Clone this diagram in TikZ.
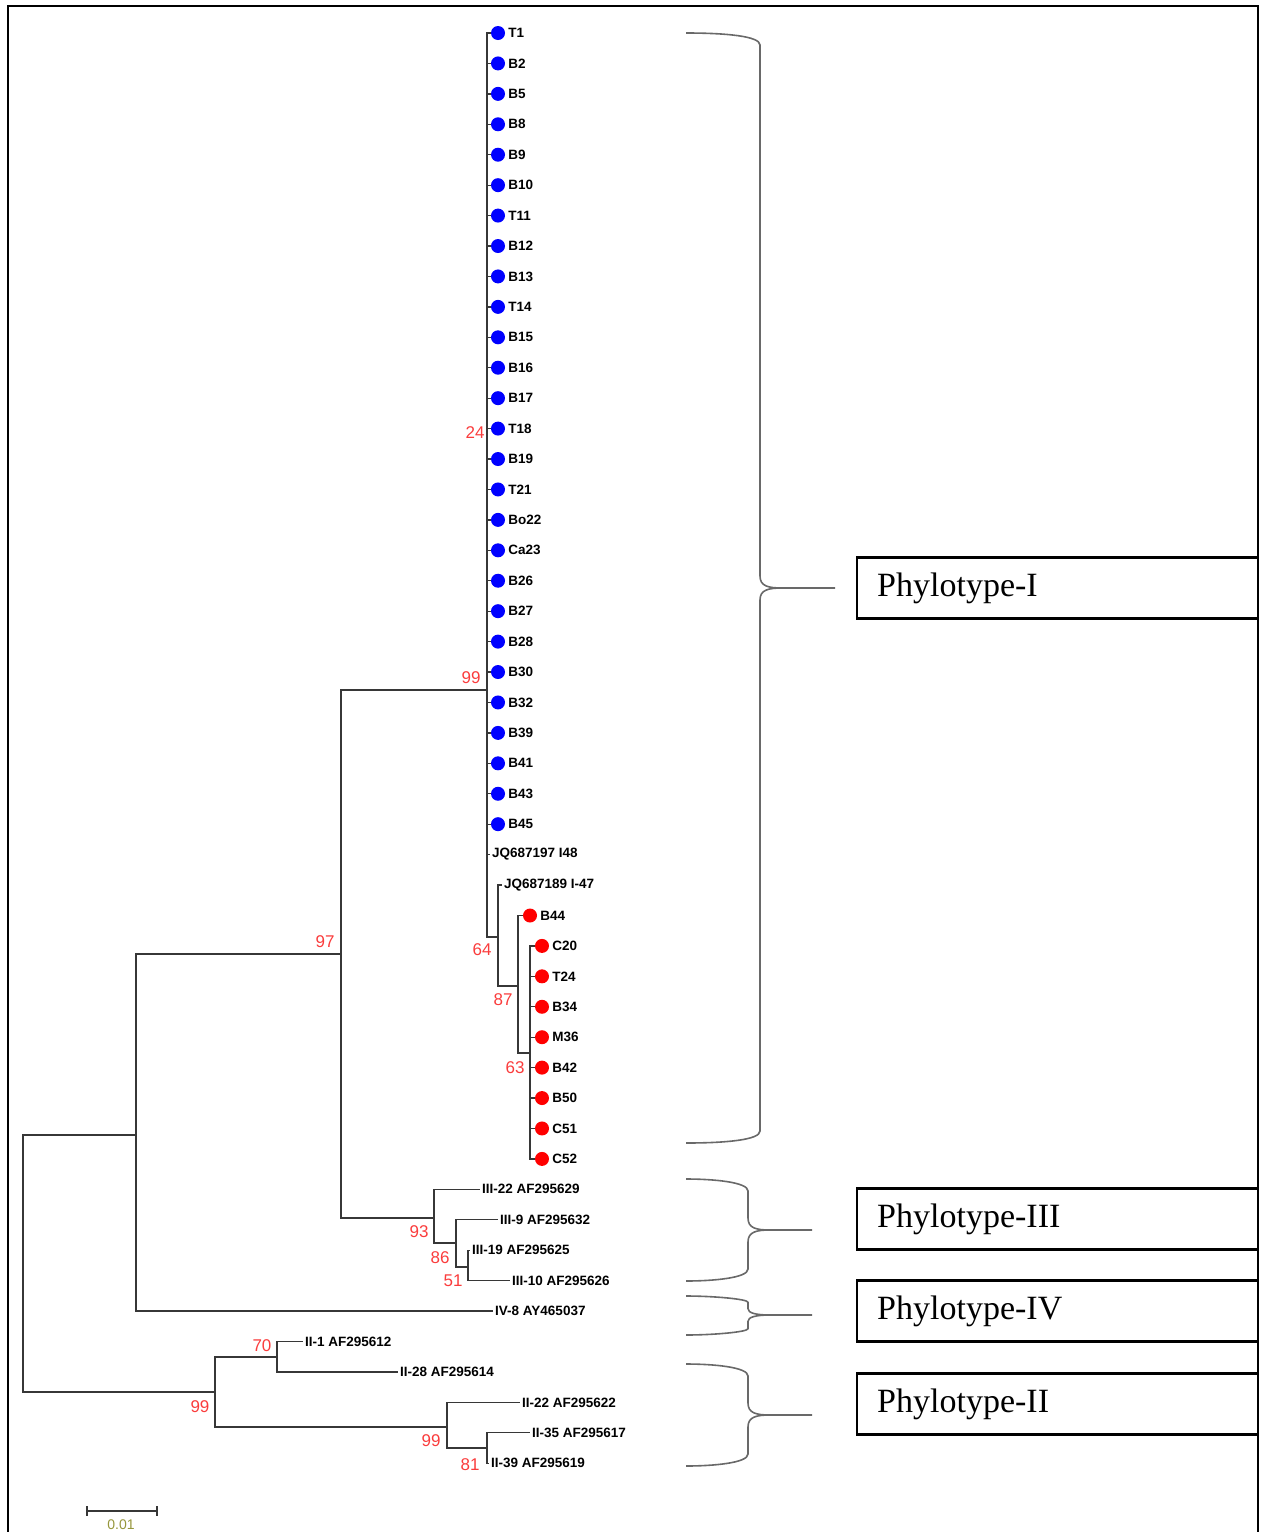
\documentclass[tikz,border=0pt]{standalone}
\usepackage{fontspec}
\setmainfont{Liberation Serif}
\newfontfamily\leaffont{Liberation Sans}
\usetikzlibrary{positioning}
\definecolor{bootred}{RGB}{250,60,60}
\definecolor{scaleolive}{RGB}{150,150,60}
\definecolor{branchgray}{RGB}{55,55,55}
\definecolor{bracegray}{RGB}{105,105,105}
\tikzset{
  branch/.style = {draw=branchgray, line width=1.3pt},
  bdot/.style   = {circle, fill=blue, inner sep=0pt, minimum size=14pt},
  rdot/.style   = {circle, fill=red, inner sep=0pt, minimum size=14pt},
  leaf/.style   = {anchor=west, inner sep=2pt, font=\leaffont\bfseries\fontsize{13.5}{15}\selectfont},
  boot/.style   = {text=bootred, inner sep=0pt, font=\leaffont\fontsize{17}{17}\selectfont},
  phylobox/.style = {draw, line width=2.4pt, anchor=west, minimum width=401pt, minimum height=61pt,
                     text width=361pt, inner xsep=20pt, align=left, font=\fontsize{34}{36}\selectfont},
  bracestyle/.style = {draw=bracegray, line width=1.6pt}
}
% #1 tip x, #2 top y, #3 mid y, #4 bottom y, #5 stem x, #6 point x
\newcommand{\phybrace}[6]{%
  \pgfmathsetmacro{\brr}{min(12,(#3-#2)/3)}
  \draw[bracestyle] (#1,#2) .. controls ({#5-35},#2) and (#5,{#2+3}) .. (#5,{#2+\brr}) -- (#5,{#3-\brr})
    .. controls (#5,{#3-2}) and ({#5+8},#3) .. ({#5+22},#3) -- (#6,#3)
    ({#5+22},#3) .. controls ({#5+8},#3) and (#5,{#3+2}) .. (#5,{#3+\brr}) -- (#5,{#4-\brr})
    .. controls (#5,{#4-3}) and ({#5-35},#4) .. (#1,#4);}

\begin{document}
\begin{tikzpicture}[x=1pt, y=-1pt]
    \useasboundingbox (0,0) rectangle (1262,1532);
    \draw[line width=2.4pt] (8,1532) |- (1258,6) -- (1258,1532);
    % internal nodes
    \coordinate (nRoot) at (23,1263);
    \coordinate (nUp) at (136,1135);
    \coordinate (n97) at (341,954);
    \coordinate (nI) at (487,690);
    \coordinate (n64) at (498,937);
    \coordinate (n87) at (518,986);
    \coordinate (n63) at (530,1053);
    \coordinate (nIII) at (434,1218);
    \coordinate (n86) at (456,1243);
    \coordinate (n51) at (468,1267);
    \coordinate (nII) at (215,1392);
    \coordinate (n70) at (277,1357);
    \coordinate (n99b) at (447,1427);
    \coordinate (n81) at (487,1448);
    % phylotype I
    \foreach \lab [count=\i from 0] in {T1,B2,B5,B8,B9,B10,T11,B12,B13,T14,B15,B16,B17,T18,B19,T21,Bo22,Ca23,B26,B27,B28,B30,B32,B39,B41,B43,B45}
      {\node[bdot] (b\i) at (498,{33+30.43*\i}) {};
       \node[leaf, right=1pt of b\i] (lb\i) {\lab};
       \draw[branch] (nI) |- (b\i);}
    \node[leaf] (lJQa) at (490,854.6) {JQ687197 I48};
    \node[leaf] (lJQb) at (502,885) {JQ687189 I-47};
    \node[rdot] (r29) at (530,915.5) {};
    \node[leaf, right=1pt of r29] (lr29) {B44};
    \foreach \lab [count=\i from 30] in {C20,T24,B34,M36,B42,B50,C51,C52}
      {\node[rdot] (r\i) at (542,{33+30.43*\i}) {};
       \node[leaf, right=1pt of r\i] (lr\i) {\lab};
       \draw[branch] (n63) |- (r\i);}
    \draw[branch] (nI) |- (lJQa);
    \draw[branch] (nI) |- (n64) |- (lJQb);
    \draw[branch] (n64) |- (n87) |- (r29);
    \draw[branch] (n87) |- (n63);
    % phylotype III, IV, II
    \node[leaf] (l38) at (480,1189.3) {III-22 AF295629};
    \node[leaf] (l39) at (498,1219.8) {III-9 AF295632};
    \node[leaf] (l40) at (470,1250.2) {III-19 AF295625};
    \node[leaf] (l41) at (510,1280.6) {III-10 AF295626};
    \node[leaf] (l42) at (493,1311.1) {IV-8 AY465037};
    \node[leaf] (l43) at (303,1341.5) {II-1 AF295612};
    \node[leaf] (l44) at (398,1371.9) {II-28 AF295614};
    \node[leaf] (l45) at (520,1402.4) {II-22 AF295622};
    \node[leaf] (l46) at (530,1432.8) {II-35 AF295617};
    \node[leaf] (l47) at (489,1463.2) {II-39 AF295619};
    \draw[branch] (nRoot) |- (nUp);
    \draw[branch] (nRoot) |- (nII);
    \draw[branch] (nUp) |- (n97);
    \draw[branch] (nUp) |- (l42);
    \draw[branch] (n97) |- (nI);
    \draw[branch] (n97) |- (nIII) |- (l38);
    \draw[branch] (nIII) |- (n86) |- (l39);
    \draw[branch] (n86) |- (n51) |- (l40);
    \draw[branch] (n51) |- (l41);
    \draw[branch] (nII) |- (n70) |- (l43);
    \draw[branch] (n70) |- (l44);
    \draw[branch] (nII) |- (n99b) |- (l45);
    \draw[branch] (n99b) |- (n81) |- (l46);
    \draw[branch] (n81) |- (l47);
    % bootstrap values
    \node[boot] (bs24) at (475,433) {24};
    \node[boot] (bs99a) at (471,678) {99};
    \node[boot] (bs97) at (325,942) {97};
    \node[boot] (bs64) at (482,950) {64};
    \node[boot] (bs87) at (503,1000) {87};
    \node[boot] (bs63) at (515,1068) {63};
    \node[boot] (bs93) at (419,1232) {93};
    \node[boot] (bs86) at (440,1258) {86};
    \node[boot] (bs51) at (453,1281) {51};
    \node[boot] (bs70) at (262,1346) {70};
    \node[boot] (bs99b) at (200,1407) {99};
    \node[boot] (bs99c) at (431,1441) {99};
    \node[boot] (bs81) at (470,1465) {81};
    % braces and phylotype boxes
    \phybrace{686}{33}{588}{1143}{760}{835}
    \phybrace{686}{1179}{1230}{1281}{748}{812}
    \phybrace{686}{1296}{1315}{1335}{748}{812}
    \phybrace{686}{1364}{1415}{1466}{748}{812}
    \node[phylobox] (pI) at (856,588) {Phylotype-I};
    \node[phylobox] (pIII) at (856,1219) {Phylotype-III};
    \node[phylobox] (pIV) at (856,1311) {Phylotype-IV};
    \node[phylobox] (pII) at (856,1404) {Phylotype-II};
    % scale bar
    \coordinate (sL) at (87,1511);
    \coordinate (sR) at (157,1511);
    \draw[branch] (sL) -- (sR);
    \draw[branch] ([yshift=5pt]sL) -- ([yshift=-5pt]sL);
    \draw[branch] ([yshift=5pt]sR) -- ([yshift=-5pt]sR);
    \node[text=scaleolive, font=\leaffont\fontsize{14}{14}\selectfont] (sT) at (121,1525) {0.01};
\end{tikzpicture}
\end{document}
